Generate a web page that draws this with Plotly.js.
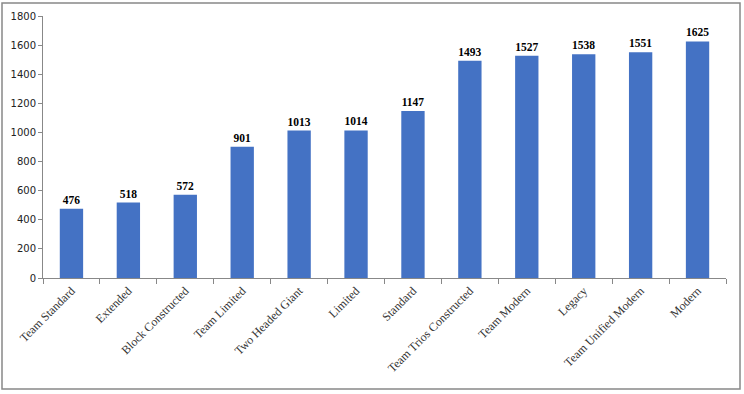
<!DOCTYPE html>
<html><head><meta charset="utf-8">
<script src="https://cdn.plot.ly/plotly-3.0.1.min.js"></script>
<style>html,body{margin:0;padding:0;background:#fff}#c{width:744px;height:394px}</style>
</head><body><div id="c"></div>
<script>
const categories = ["Team Standard","Extended","Block Constructed","Team Limited","Two Headed Giant","Limited","Standard","Team Trios Constructed","Team Modern","Legacy","Team Unified Modern","Modern"];
const values = [476,518,572,901,1013,1014,1147,1493,1527,1538,1551,1625];
const yTicks = [0,200,400,600,800,1000,1200,1400,1600,1800];

const L=43, R=18, T=16, B=116, W=744, H=394;
const pw = W-L-R, ph = H-T-B;
const px = x => (x-L)/pw, py = y => (H-B-y)/ph;

Plotly.newPlot('c', [{
  type:'bar', x:categories, y:values,
  marker:{color:'#4472C4'},
  text:values.map(String), textposition:'outside', cliponaxis:false,
  textfont:{family:'Liberation Serif', size:11.5, color:'#000', weight:'bold'},
  hoverinfo:'none'
}], {
  width:W, height:H, margin:{l:L,r:R,t:T,b:B},
  paper_bgcolor:'#fff', plot_bgcolor:'#fff',
  bargap:0.59, showlegend:false,
  xaxis:{type:'category', tickangle:-45, tickson:'boundaries', ticks:'outside', ticklen:5, tickcolor:'#888',
    showline:true, linecolor:'#888', linewidth:1, showgrid:false,
    tickfont:{family:'Liberation Serif', size:12, color:'#333'}},
  yaxis:{range:[0,1800], tickvals:yTicks, ticktext:yTicks.map(String), ticks:'outside', ticklen:4, tickcolor:'#888',
    showline:true, linecolor:'#888', linewidth:1, showgrid:false, zeroline:false,
    tickfont:{family:'DejaVu Sans', size:10, color:'#222'}},
  shapes:[{type:'rect', xref:'paper', yref:'paper', x0:px(2), x1:px(740), y0:py(389), y1:py(3),
    line:{color:'#888', width:1.5}, fillcolor:'rgba(0,0,0,0)', layer:'below'}]
}, {staticPlot:true, displayModeBar:false});
</script></body></html>
